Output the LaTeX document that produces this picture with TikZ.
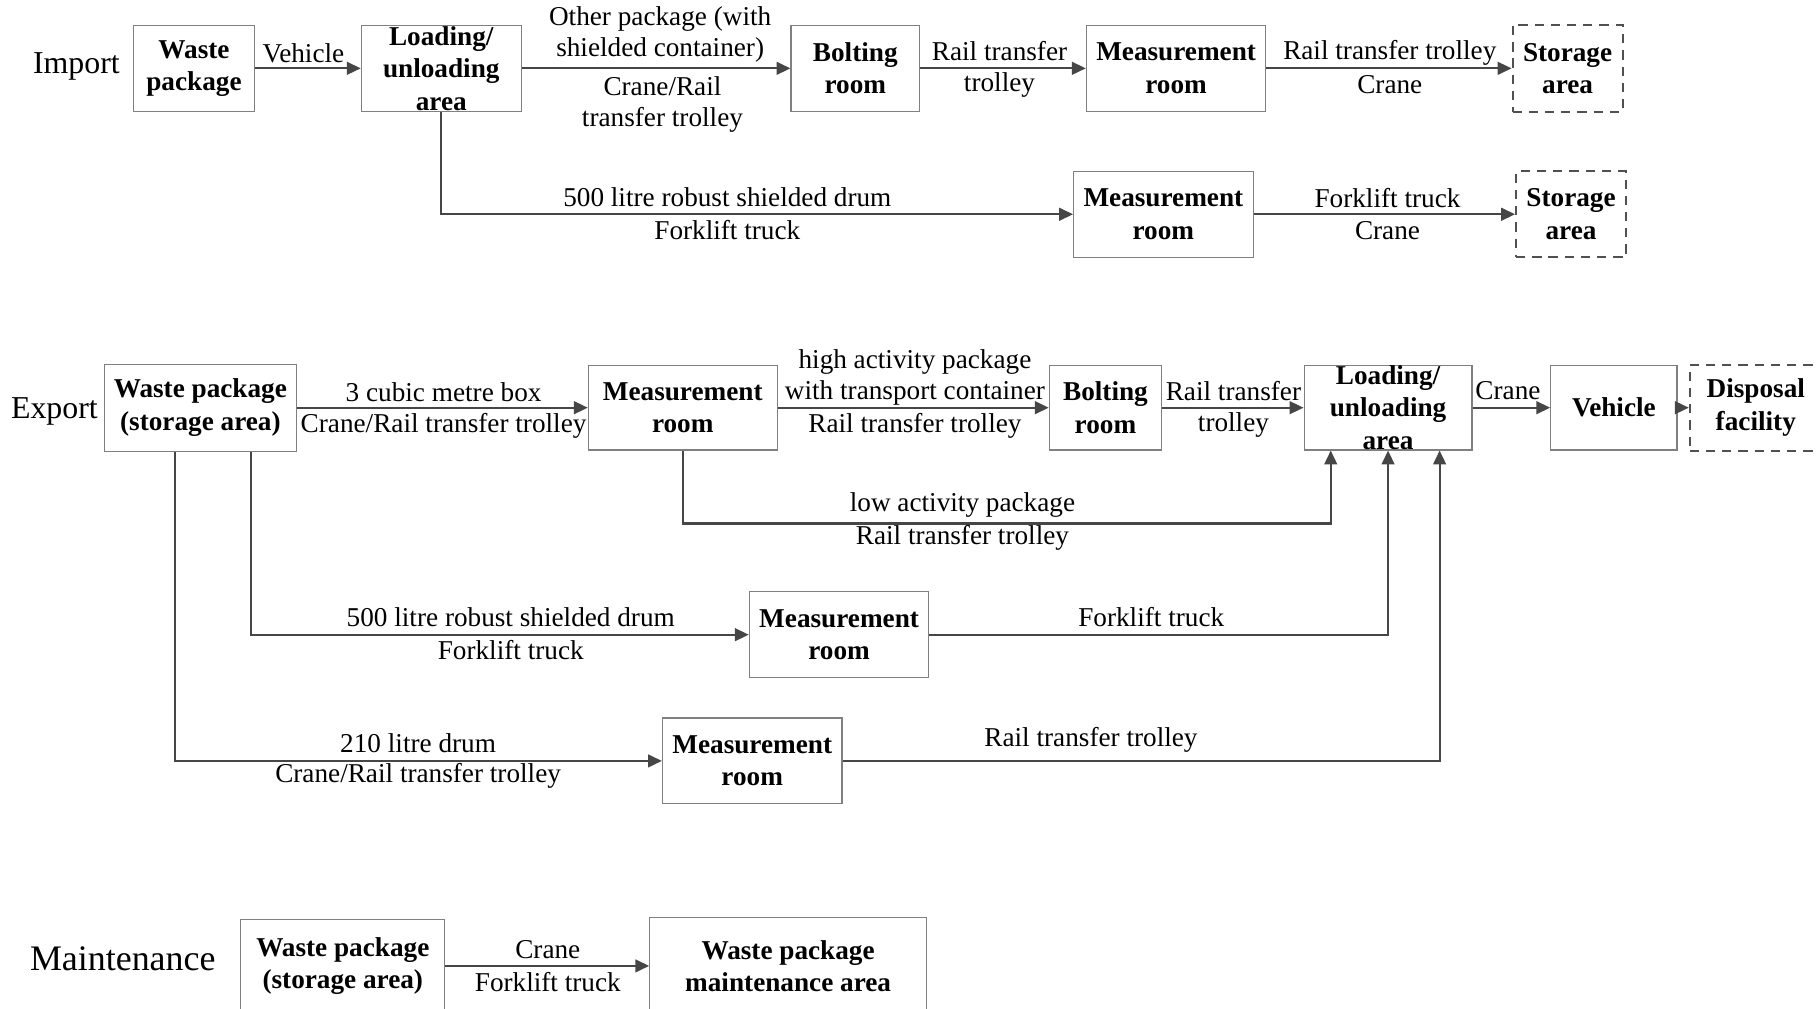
\documentclass[tikz,border=0pt]{standalone}
\usepackage{fontspec}
\setmainfont{Liberation Serif}
\usetikzlibrary{arrows.meta}
\definecolor{boxline}{HTML}{808080}
\definecolor{conline}{HTML}{464646}
\definecolor{dashline}{HTML}{505050}
\tikzset{
  box/.style={draw=boxline, line width=1pt, inner sep=2pt, align=center,
    font=\fontsize{23.5}{28}\selectfont\bfseries},
  dbox/.style={box, draw=dashline, line width=1.7pt, dash pattern=on 8pt off 6pt},
  btxt/.style={inner sep=0pt, align=center, font=\fontsize{23.5}{28}\selectfont\bfseries},
  lbl/.style={inner sep=0pt, align=center, font=\fontsize{23.5}{27}\selectfont},
  sect/.style={inner sep=0pt, font=\fontsize{27.5}{30}\selectfont},
  conn/.style={draw=conline, line width=1.8pt},
  arr/.style={conn, -{Triangle[length=12pt,width=11pt]}}
}
\begin{document}
\begin{tikzpicture}[x=1pt,y=-1pt]
\useasboundingbox (0,0) rectangle (1568,871);

% ---------------- Import ----------------
\node[sect] (simp) at (66,57) {Import};
\node[box, minimum width=105pt, minimum height=74pt] (iWP) at (167.5,59) {Waste\\package};
\node[box, minimum width=138pt, minimum height=74pt] (iLU) at (381,59) {};
\node[btxt] (iLUt) at (iLU) {Loading/\\unloading\\area};
\node[box, minimum width=111pt, minimum height=74pt] (iBR) at (738.5,59) {Bolting\\room};
\node[box, minimum width=155pt, minimum height=74pt] (iMR) at (1015.5,59) {Measurement\\room};
\node[dbox, minimum width=95pt, minimum height=75pt] (iSA) at (1353.5,59) {Storage\\area};
\node[box, minimum width=155pt, minimum height=74pt] (iMR2) at (1004.5,185) {Measurement\\room};
\node[dbox, minimum width=95pt, minimum height=74pt] (iSA2) at (1356.5,185) {Storage\\area};

\draw[arr] (iWP) -- (iLU);
\draw[arr] (iLU) -- (iBR);
\draw[arr] (iBR) -- (iMR);
\draw[arr] (iMR) -- (iSA);
\draw[arr] (iLU.south) |- (iMR2.west);
\draw[arr] (iMR2) -- (iSA2);

\node[lbl] (l1) at (262,46) {Vehicle};
\node[lbl] (l2) at (570,30) {Other package (with\\shielded container)};
\node[lbl] (l3) at (572,90) {Crane/Rail\\transfer trolley};
\node[lbl] (l4) at (863,44) {Rail transfer};
\node[lbl] (l5) at (863,73) {trolley};
\node[lbl] (l6) at (1200,46) {Rail transfer trolley};
\node[lbl] (l7) at (1200,73) {Crane};
\node[lbl] (l8) at (628,170) {500 litre robust shielded drum};
\node[lbl] (l9) at (628,199) {Forklift truck};
\node[lbl] (l10) at (1198,171) {Forklift truck};
\node[lbl] (l11) at (1198,199) {Crane};

% ---------------- Export ----------------
\node[sect] (sexp) at (47,355) {Export};
\node[box, minimum width=166pt, minimum height=75pt] (eWP) at (173,352) {Waste package\\(storage area)};
\node[box, minimum width=163pt, minimum height=73pt] (eMR) at (589.5,352) {Measurement\\room};
\node[box, minimum width=97pt, minimum height=73pt] (eBR) at (954.5,352) {Bolting\\room};
\node[box, minimum width=145pt, minimum height=73pt] (eLU) at (1198.5,352) {};
\node[btxt] (eLUt) at (eLU) {Loading/\\unloading\\area};
\node[box, minimum width=109pt, minimum height=73pt] (eVH) at (1393.5,352) {Vehicle};
\node[dbox, minimum width=114pt, minimum height=74pt] (eDF) at (1516,352) {Disposal\\facility};
\node[box, minimum width=155pt, minimum height=74pt] (eMR3) at (724.5,548) {Measurement\\room};
\node[box, minimum width=155pt, minimum height=74pt] (eMR4) at (649.5,657) {Measurement\\room};

\coordinate (bLow) at (1149,452);
\coordinate (bFork) at (217,548);
\coordinate (bDrum) at (151,657);
\coordinate (bRail) at (1243,657);

\draw[arr] (eWP) -- (eMR);
\draw[arr] (eMR) -- (eBR);
\draw[arr] (eBR) -- (eLU);
\draw[arr] (eLU) -- (eVH);
\draw[arr] (eVH) -- (eDF);
\draw[arr] (eMR.south) |- (bLow) -- (bLow |- eLU.south);
\draw[arr] (bFork |- eWP.south) |- (eMR3.west);
\draw[arr] (eMR3.east) -| (eLU.south);
\draw[arr] (bDrum |- eWP.south) |- (eMR4.west);
\draw[arr] (eMR4.east) -- (bRail) -- (bRail |- eLU.south);

\node[lbl] (m1) at (383,339) {3 cubic metre box};
\node[lbl] (m2) at (383,368) {Crane/Rail transfer trolley};
\node[lbl] (m3) at (790,326) {high activity package\\with transport container};
\node[lbl] (m4) at (790,368) {Rail transfer trolley};
\node[lbl] (m5) at (1065,338) {Rail transfer};
\node[lbl] (m6) at (1065,367) {trolley};
\node[lbl] (m7) at (1302,337) {Crane};
\node[lbl] (m8) at (831,436) {low activity package};
\node[lbl] (m9) at (831,464) {Rail transfer trolley};
\node[lbl] (m10) at (441,533) {500 litre robust shielded drum};
\node[lbl] (m11) at (441,561) {Forklift truck};
\node[lbl] (m12) at (994,533) {Forklift truck};
\node[lbl] (m13) at (361,642) {210 litre drum};
\node[lbl] (m14) at (361,670) {Crane/Rail transfer trolley};
\node[lbl] (m15) at (942,639) {Rail transfer trolley};

% ---------------- Maintenance ----------------
\node[sect, font=\fontsize{31}{34}\selectfont] (smnt) at (106,828) {Maintenance};
\node[box, minimum width=176pt, minimum height=80pt] (nWP) at (296,834) {Waste package\\(storage area)};
\node[box, minimum width=239pt, minimum height=84pt] (nMA) at (680.5,834) {Waste package\\maintenance area};
\draw[arr] (nWP) -- (nMA);
\node[lbl] (n1) at (473,820) {Crane};
\node[lbl] (n2) at (473,848) {Forklift truck};
\end{tikzpicture}
\end{document}
